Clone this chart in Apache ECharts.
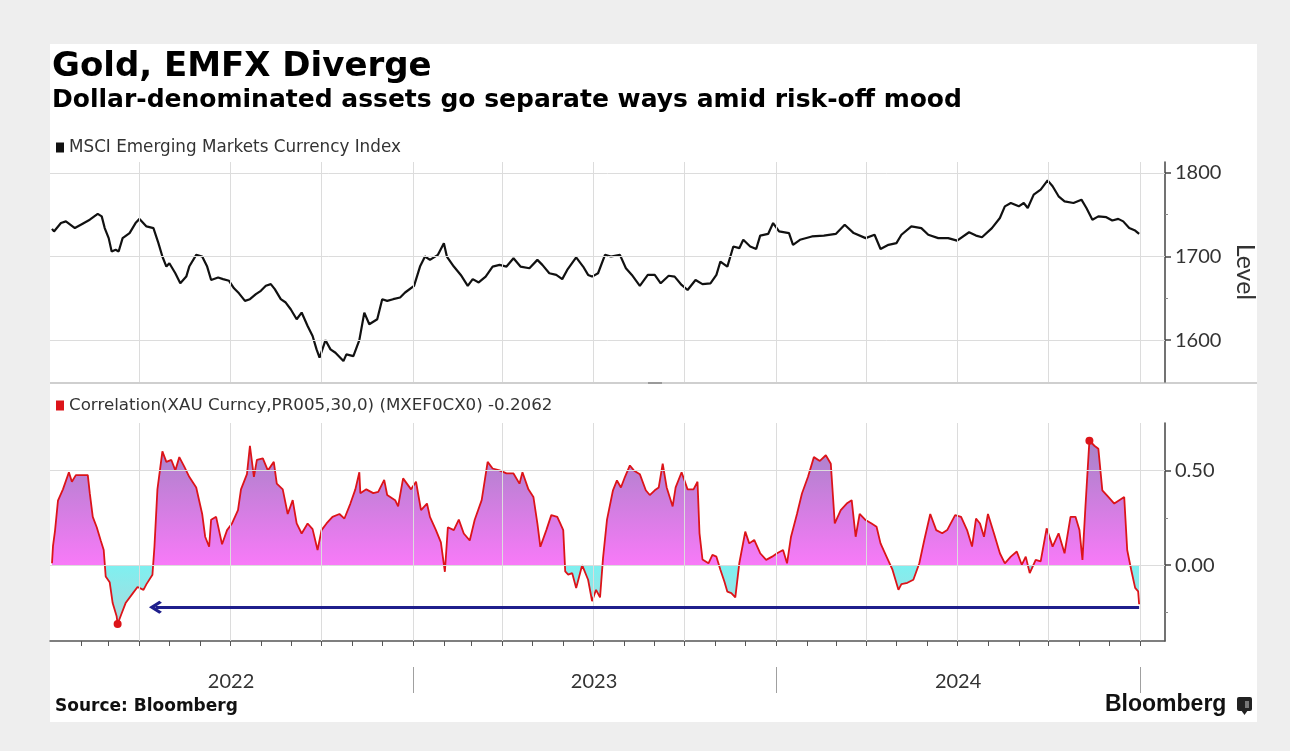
<!DOCTYPE html>
<html><head><meta charset="utf-8">
<script src="https://cdn.jsdelivr.net/npm/echarts@6/dist/echarts.min.js"></script>
<style>
html,body{margin:0;padding:0;background:#eeeeee;width:1290px;height:751px;overflow:hidden}
#card{position:absolute;left:50px;top:44px;width:1207px;height:678px;background:#ffffff}
#chart{position:absolute;left:0;top:0;width:1290px;height:751px}
</style></head><body>
<div id="card"></div><div id="chart"></div>
<script>
// ---------------- DATA ----------------
const emName = 'MSCI Emerging Markets Currency Index';
const corrName = 'Correlation(XAU Curncy,PR005,30,0) (MXEF0CX0) -0.2062';

const emDates = ['2022-01-03','2022-01-05','2022-01-12','2022-01-17','2022-01-26','2022-02-01','2022-02-10','2022-02-18','2022-02-22','2022-02-25',
'2022-03-01','2022-03-04','2022-03-08','2022-03-11','2022-03-15','2022-03-22','2022-03-28','2022-04-01','2022-04-08','2022-04-15',
'2022-04-20','2022-04-24','2022-04-28','2022-05-01','2022-05-07','2022-05-12','2022-05-18','2022-05-21','2022-05-28','2022-06-03',
'2022-06-08','2022-06-12','2022-06-19','2022-06-24','2022-06-30','2022-07-05','2022-07-10','2022-07-16','2022-07-21','2022-07-27',
'2022-08-01','2022-08-06','2022-08-11','2022-08-15','2022-08-21','2022-08-26','2022-08-31','2022-09-06','2022-09-11','2022-09-17',
'2022-09-22','2022-09-26','2022-09-29','2022-10-05','2022-10-10','2022-10-15','2022-10-23','2022-10-26','2022-11-02','2022-11-08',
'2022-11-13','2022-11-18','2022-11-26','2022-12-01','2022-12-06','2022-12-12','2022-12-19','2022-12-24','2023-01-02','2023-01-08',
'2023-01-13','2023-01-18','2023-01-26','2023-02-01','2023-02-04','2023-02-11','2023-02-18','2023-02-25','2023-03-02','2023-03-08',
'2023-03-15','2023-03-22','2023-03-29','2023-04-05','2023-04-12','2023-04-19','2023-04-28','2023-05-06','2023-05-11','2023-05-18',
'2023-05-25','2023-05-31','2023-06-05','2023-06-14','2023-06-21','2023-06-26','2023-06-30','2023-07-06','2023-07-13','2023-07-19',
'2023-07-28','2023-08-03','2023-08-09','2023-08-17','2023-08-25','2023-09-01','2023-09-07','2023-09-15','2023-09-21','2023-09-28',
'2023-10-04','2023-10-12','2023-10-19','2023-10-27','2023-11-02','2023-11-06','2023-11-13','2023-11-19','2023-11-25','2023-11-29',
'2023-12-06','2023-12-12','2023-12-16','2023-12-24','2023-12-29','2024-01-04','2024-01-14','2024-01-18','2024-01-25','2024-02-06',
'2024-02-18','2024-03-01','2024-03-10','2024-03-19','2024-03-31','2024-04-09','2024-04-15','2024-04-23','2024-05-01','2024-05-06',
'2024-05-16','2024-05-26','2024-06-02','2024-06-12','2024-06-22','2024-07-01','2024-07-13','2024-07-20','2024-07-26','2024-08-05',
'2024-08-13','2024-08-18','2024-08-24','2024-09-01','2024-09-06','2024-09-10','2024-09-16','2024-09-23','2024-09-30','2024-10-05',
'2024-10-11','2024-10-17','2024-10-26','2024-11-03','2024-11-08','2024-11-14','2024-11-20','2024-11-28','2024-12-04','2024-12-10',
'2024-12-15','2024-12-21','2024-12-27','2024-12-31'];
const emValues = [1733,1730,1740,1742,1734,1738,1744,1751,1748,1734,
1722,1706,1708,1706,1722,1728,1740,1745,1736,1734,
1716,1700,1688,1692,1680,1668,1676,1688,1702,1700,
1688,1672,1675,1673,1671,1662,1656,1647,1649,1655,
1659,1665,1667,1661,1649,1645,1637,1625,1633,1617,
1605,1589,1579,1600,1589,1585,1575,1583,1581,1600,
1633,1619,1625,1649,1647,1649,1651,1657,1665,1688,
1700,1696,1702,1716,1700,1688,1678,1665,1673,1669,
1676,1688,1690,1688,1698,1688,1686,1696,1690,1680,
1678,1673,1684,1699,1688,1678,1676,1680,1702,1700,
1702,1686,1678,1665,1678,1678,1668,1677,1676,1666,
1660,1672,1667,1668,1678,1694,1688,1712,1710,1720,
1712,1709,1725,1727,1740,1730,1728,1714,1720,1724,
1725,1727,1738,1728,1722,1726,1709,1714,1716,1726,
1736,1734,1726,1722,1722,1719,1729,1725,1723,1734,
1746,1760,1764,1760,1764,1758,1774,1780,1791,1784,
1772,1766,1764,1768,1758,1744,1748,1747,1743,1745,
1742,1734,1731,1727];

const corrDates = ['2022-01-03','2022-01-04','2022-01-06','2022-01-09','2022-01-14','2022-01-20','2022-01-23','2022-01-27','2022-02-03','2022-02-08',
'2022-02-10','2022-02-13','2022-02-17','2022-02-21','2022-02-24','2022-02-26','2022-03-02','2022-03-05','2022-03-09','2022-03-10',
'2022-03-14','2022-03-18','2022-03-25','2022-03-30','2022-04-05','2022-04-08','2022-04-14','2022-04-16','2022-04-19','2022-04-24',
'2022-04-28','2022-05-03','2022-05-07','2022-05-11','2022-05-16','2022-05-21','2022-05-28','2022-06-03','2022-06-06','2022-06-10',
'2022-06-12','2022-06-17','2022-06-23','2022-06-28','2022-07-03','2022-07-09','2022-07-12','2022-07-18','2022-07-21','2022-07-25',
'2022-07-28','2022-08-03','2022-08-08','2022-08-14','2022-08-17','2022-08-23','2022-08-28','2022-09-02','2022-09-06','2022-09-11',
'2022-09-17','2022-09-22','2022-09-27','2022-10-01','2022-10-06','2022-10-12','2022-10-19','2022-10-24','2022-10-30','2022-11-04',
'2022-11-08','2022-11-09','2022-11-15','2022-11-22','2022-11-27','2022-12-03','2022-12-06','2022-12-14','2022-12-17','2022-12-22',
'2022-12-30','2023-01-04','2023-01-09','2023-01-15','2023-01-18','2023-01-24','2023-01-29','2023-02-02','2023-02-05','2023-02-11',
'2023-02-16','2023-02-21','2023-02-27','2023-03-04','2023-03-11','2023-03-17','2023-03-22','2023-03-29','2023-04-05','2023-04-12',
'2023-04-18','2023-04-21','2023-04-27','2023-05-02','2023-05-06','2023-05-09','2023-05-15','2023-05-20','2023-05-26','2023-05-29',
'2023-06-01','2023-06-03','2023-06-06','2023-06-10','2023-06-14','2023-06-20','2023-06-26','2023-06-30','2023-07-04','2023-07-08',
'2023-07-11','2023-07-15','2023-07-21','2023-07-25','2023-07-29','2023-08-02','2023-08-07','2023-08-11','2023-08-17','2023-08-23',
'2023-08-27','2023-09-01','2023-09-05','2023-09-09','2023-09-13','2023-09-19','2023-09-22','2023-09-28','2023-10-04','2023-10-10',
'2023-10-14','2023-10-16','2023-10-19','2023-10-25','2023-10-29','2023-11-02','2023-11-06','2023-11-10','2023-11-13','2023-11-17',
'2023-11-21','2023-11-25','2023-12-01','2023-12-05','2023-12-10','2023-12-16','2023-12-22','2023-12-28','2024-01-02','2024-01-08',
'2024-01-12','2024-01-16','2024-01-22','2024-01-27','2024-02-02','2024-02-08','2024-02-14','2024-02-20','2024-02-25','2024-02-29',
'2024-03-06','2024-03-12','2024-03-17','2024-03-21','2024-03-25','2024-03-31','2024-04-06','2024-04-11','2024-04-15','2024-04-21',
'2024-04-27','2024-05-03','2024-05-06','2024-05-12','2024-05-18','2024-05-24','2024-05-29','2024-06-04','2024-06-10','2024-06-16',
'2024-06-21','2024-06-29','2024-07-05','2024-07-11','2024-07-16','2024-07-20','2024-07-24','2024-07-28','2024-08-01','2024-08-07',
'2024-08-13','2024-08-18','2024-08-24','2024-08-30','2024-09-04','2024-09-08','2024-09-12','2024-09-18','2024-09-23','2024-09-29',
'2024-10-05','2024-10-11','2024-10-17','2024-10-23','2024-10-28','2024-11-01','2024-11-04','2024-11-07','2024-11-11','2024-11-16',
'2024-11-20','2024-11-24','2024-11-30','2024-12-06','2024-12-11','2024-12-16','2024-12-19','2024-12-23','2024-12-27','2024-12-30',
'2024-12-31'];
const corrValues = [0.01,0.10,0.18,0.34,0.40,0.49,0.44,0.475,0.475,0.475,
0.38,0.255,0.20,0.13,0.08,-0.06,-0.09,-0.20,-0.27,-0.31,
-0.255,-0.20,-0.15,-0.115,-0.13,-0.10,-0.05,0.097,0.40,0.60,
0.545,0.555,0.50,0.57,0.52,0.466,0.41,0.27,0.15,0.097,
0.24,0.255,0.11,0.185,0.22,0.29,0.40,0.48,0.63,0.466,
0.555,0.563,0.50,0.545,0.43,0.40,0.27,0.343,0.22,0.167,
0.22,0.19,0.08,0.185,0.22,0.255,0.27,0.246,0.325,0.40,
0.49,0.38,0.40,0.38,0.387,0.45,0.37,0.343,0.31,0.458,
0.40,0.44,0.29,0.325,0.255,0.185,0.12,-0.035,0.20,0.185,
0.24,0.167,0.13,0.24,0.343,0.545,0.51,0.50,0.484,0.484,
0.43,0.49,0.40,0.36,0.22,0.097,0.185,0.264,0.255,0.22,
0.185,-0.033,-0.05,-0.042,-0.12,0.0,-0.077,-0.19,-0.13,-0.17,
0.037,0.24,0.395,0.447,0.41,0.465,0.526,0.50,0.48,0.395,
0.37,0.395,0.41,0.535,0.41,0.31,0.41,0.49,0.40,0.40,
0.44,0.168,0.03,0.01,0.054,0.045,-0.024,-0.086,-0.14,-0.147,
-0.17,0.01,0.177,0.115,0.133,0.063,0.028,0.045,0.063,0.08,
0.01,0.15,0.27,0.378,0.465,0.57,0.55,0.58,0.535,0.22,
0.29,0.325,0.343,0.15,0.27,0.238,0.22,0.203,0.115,0.045,
-0.024,-0.13,-0.10,-0.093,-0.077,0.01,0.133,0.27,0.185,0.168,
0.185,0.264,0.255,0.185,0.098,0.246,0.22,0.15,0.27,0.168,
0.063,0.01,0.045,0.072,0.002,0.045,-0.042,0.028,0.02,0.194,
0.098,0.168,0.063,0.255,0.255,0.185,0.028,0.308,0.657,0.63,
0.614,0.395,0.36,0.325,0.343,0.36,0.08,-0.024,-0.12,-0.138,
-0.2062];

// axis structure
const X_MIN = '2022-01-01', X_MAX = '2025-01-26';
const monthTicks = ['2022-02-01','2022-03-01','2022-04-01','2022-05-01','2022-06-01','2022-07-01','2022-08-01','2022-09-01','2022-10-01','2022-11-01','2022-12-01',
'2023-01-01','2023-02-01','2023-03-01','2023-04-01','2023-05-01','2023-06-01','2023-07-01','2023-08-01','2023-09-01','2023-10-01','2023-11-01','2023-12-01',
'2024-01-01','2024-02-01','2024-03-01','2024-04-01','2024-05-01','2024-06-01','2024-07-01','2024-08-01','2024-09-01','2024-10-01','2024-11-01','2024-12-01','2025-01-01'];
const quarterLines = ['2022-04-01','2022-07-01','2022-10-01','2023-01-01','2023-04-01','2023-07-01','2023-10-01','2024-01-01','2024-04-01','2024-07-01','2024-10-01','2025-01-01'];
const yearLabelPos = ['2022-07-02','2023-07-02','2024-07-02'];
const yearLabels = ['2022','2023','2024'];
const yearBounds = ['2023-01-01','2024-01-01','2025-01-01'];
const levelTicks = [1600,1700,1800], levelMinor = [1650,1750];
const corrTicks = [0,0.5], corrMinor = [-0.25,0.25];
const LEVEL_MIN = 1550, LEVEL_MAX = 1813;
const CORR_MIN = -0.4, CORR_MAX = 0.75;
const ARROW_FROM = '2024-12-31', ARROW_TO = '2022-04-17', ARROW_LEVEL = -0.222;

// ---------------- CHART ----------------
const T = s => +echarts.time.parse(s);
const G0 = {left:50, right:125, top:162, height:220};
const G1 = {left:50, right:125, top:423, height:218};
const emData = emDates.map((d,i)=>[d, emValues[i]]);
const corrData = corrDates.map((d,i)=>[d, corrValues[i]]);
const zf = CORR_MAX/(CORR_MAX-CORR_MIN);
const RED = '#dc1419';
const GRID_C = '#dcdcdc';
const axisC = '#444';
const lab = {color:'#333', fontFamily:'Lato', fontSize:20};
const yearPosT = yearLabelPos.map(T);

const chart = echarts.init(document.getElementById('chart'), null, {renderer:'canvas'});
const gridMark = (vals, dim) => vals.map(v => ({[dim]: v}));

chart.setOption({
  backgroundColor:'transparent',
  animation:false,
  grid:[Object.assign({outerBoundsMode:'none', containLabel:false}, G0), Object.assign({outerBoundsMode:'none', containLabel:false}, G1)],
  legend:[
    {data:[emName], left:56, top:139, padding:0, icon:'rect', itemWidth:8, itemHeight:10, selectedMode:false,
     textStyle:{fontFamily:'DejaVu Sans', fontSize:16.8, color:'#333'}},
    {data:[corrName], left:56, top:397, padding:0, icon:'rect', itemWidth:8, itemHeight:10, selectedMode:false,
     textStyle:{fontFamily:'DejaVu Sans', fontSize:16.7, color:'#333'}}
  ],
  xAxis:[
    {gridIndex:0, type:'time', min:X_MIN, max:X_MAX, show:false},
    {gridIndex:1, type:'time', min:X_MIN, max:X_MAX, show:false},
    {gridIndex:1, type:'value', min:T(X_MIN), max:T(X_MAX), position:'bottom', offset:0,
     axisLine:{show:true, onZero:false, lineStyle:{color:'#555', width:1.5}},
     axisTick:{show:true, customValues:monthTicks.map(T), length:5, lineStyle:{color:'#555'}},
     axisLabel:Object.assign({show:true, customValues:yearPosT, margin:31,
       formatter:v => { const i = yearPosT.indexOf(+v); return i >= 0 ? yearLabels[i] : ''; }}, lab),
     splitLine:{show:false}},
    {gridIndex:1, type:'value', min:T(X_MIN), max:T(X_MAX), position:'bottom', offset:26,
     axisLine:{show:false, onZero:false},
     axisTick:{show:true, customValues:yearBounds.map(T), length:26, lineStyle:{color:'#a0a0a0', width:1}},
     axisLabel:{show:false}, splitLine:{show:false}}
  ],
  yAxis:[
    {gridIndex:0, type:'value', position:'right', min:LEVEL_MIN, max:LEVEL_MAX,
     axisLine:{show:true, lineStyle:{color:axisC, width:1.5}},
     axisTick:{show:true, customValues:levelTicks, length:6, lineStyle:{color:axisC, width:1.5}},
     axisLabel:Object.assign({customValues:levelTicks, margin:10, formatter:v=>String(v)}, lab),
     splitLine:{show:false},
     name:'Level', nameLocation:'middle', nameRotate:-90, nameGap:68,
     nameTextStyle:{color:'#333', fontFamily:'Lato', fontSize:25}},
    {gridIndex:1, type:'value', position:'right', min:CORR_MIN, max:CORR_MAX,
     axisLine:{show:true, lineStyle:{color:axisC, width:1.5}},
     axisTick:{show:true, customValues:corrTicks, length:6, lineStyle:{color:axisC, width:1.5}},
     axisLabel:Object.assign({customValues:corrTicks, margin:10, formatter:v=>Number(v).toFixed(2)}, lab),
     splitLine:{show:false}},
    {gridIndex:0, type:'value', position:'right', min:LEVEL_MIN, max:LEVEL_MAX,
     axisLine:{show:false}, axisTick:{show:true, customValues:levelMinor, length:3, lineStyle:{color:'#888'}},
     axisLabel:{show:false}, splitLine:{show:false}},
    {gridIndex:1, type:'value', position:'right', min:CORR_MIN, max:CORR_MAX,
     axisLine:{show:false}, axisTick:{show:true, customValues:corrMinor, length:3, lineStyle:{color:'#888'}},
     axisLabel:{show:false}, splitLine:{show:false}}
  ],
  series:[
    {type:'line', xAxisIndex:0, yAxisIndex:0, data:[], z:1, silent:true,
     markLine:{silent:true, animation:false, symbol:'none', label:{show:false}, emphasis:{disabled:true},
       lineStyle:{color:GRID_C, width:1, type:'solid'},
       data:gridMark(quarterLines.map(T),'xAxis').concat(gridMark(levelTicks,'yAxis'))}},
    {type:'line', xAxisIndex:1, yAxisIndex:1, data:[], z:1, silent:true,
     markLine:{silent:true, animation:false, symbol:'none', label:{show:false}, emphasis:{disabled:true},
       lineStyle:{color:GRID_C, width:1, type:'solid'},
       data:gridMark(quarterLines.map(T),'xAxis').concat(gridMark(corrTicks,'yAxis'))}},
    {name:emName, type:'line', xAxisIndex:0, yAxisIndex:0, data:emData, showSymbol:false, symbol:'none',
     z:3, silent:true, lineStyle:{color:'#111', width:2.2}, itemStyle:{color:'#111'}},
    {type:'line', xAxisIndex:1, yAxisIndex:1, data:corrData, showSymbol:false, symbol:'none', z:2, silent:true,
     lineStyle:{width:0, opacity:0},
     areaStyle:{opacity:1, color:{type:'linear', x:0, y:G1.top, x2:0, y2:G1.top+G1.height, global:true,
       colorStops:[{offset:0,color:'#9a84c0'},{offset:zf,color:'#f87af8'},{offset:zf,color:'#7ef0f0'},{offset:1,color:'#b8d2d6'}]}}},
    {name:corrName, type:'line', xAxisIndex:1, yAxisIndex:1, data:corrData, showSymbol:false, symbol:'none',
     z:4, silent:true, lineStyle:{color:RED, width:1.8}, itemStyle:{color:RED},
     markPoint:{silent:true, animation:false, symbol:'circle', symbolSize:8, label:{show:false},
       itemStyle:{color:RED}, data:[{type:'min'},{type:'max'}]},
     markLine:{silent:true, animation:false,
       symbol:['none','path://M0,8 L8,0 L16,8 L13.5,10 L8,4.5 L2.5,10 Z'], symbolSize:13,
       label:{show:false}, emphasis:{disabled:true},
       lineStyle:{color:'#1f1f8c', width:3, type:'solid', opacity:1},
       data:[[{coord:[T(ARROW_FROM), ARROW_LEVEL]},{coord:[T(ARROW_TO), ARROW_LEVEL]}]]}}
  ],
  graphic:[
    {type:'text', x:52, y:67.5, style:{text:'Gold, EMFX Diverge', font:'bold 34px "DejaVu Sans"', fill:'#000', align:'left', verticalAlign:'middle'}},
    {type:'text', x:52, y:100, style:{text:'Dollar-denominated assets go separate ways amid risk-off mood', font:'bold 25px "DejaVu Sans"', fill:'#000', align:'left', verticalAlign:'middle'}},
    {type:'line', shape:{x1:50, y1:383, x2:1257, y2:383}, style:{stroke:'#cfcfcf', lineWidth:2}},
    {type:'rect', shape:{x:648, y:382, width:14, height:2}, style:{fill:'#9a9a9a'}},
    {type:'text', x:55, y:707, style:{text:'Source: Bloomberg', font:'bold 17px "DejaVu Sans"', fill:'#111', align:'left', verticalAlign:'middle'}},
    {type:'text', x:1105, y:705, style:{text:'Bloomberg', font:'bold 23px "Liberation Sans"', fill:'#111', align:'left', verticalAlign:'middle'}},
    {type:'rect', shape:{x:1237, y:697, width:15, height:14, r:2}, style:{fill:'#222'}},
    {type:'polygon', shape:{points:[[1241,710],[1248,710],[1244.5,715]]}, style:{fill:'#222'}},
    {type:'rect', shape:{x:1245, y:701, width:4, height:7}, style:{fill:'#777'}}
  ]
});
</script></body></html>
